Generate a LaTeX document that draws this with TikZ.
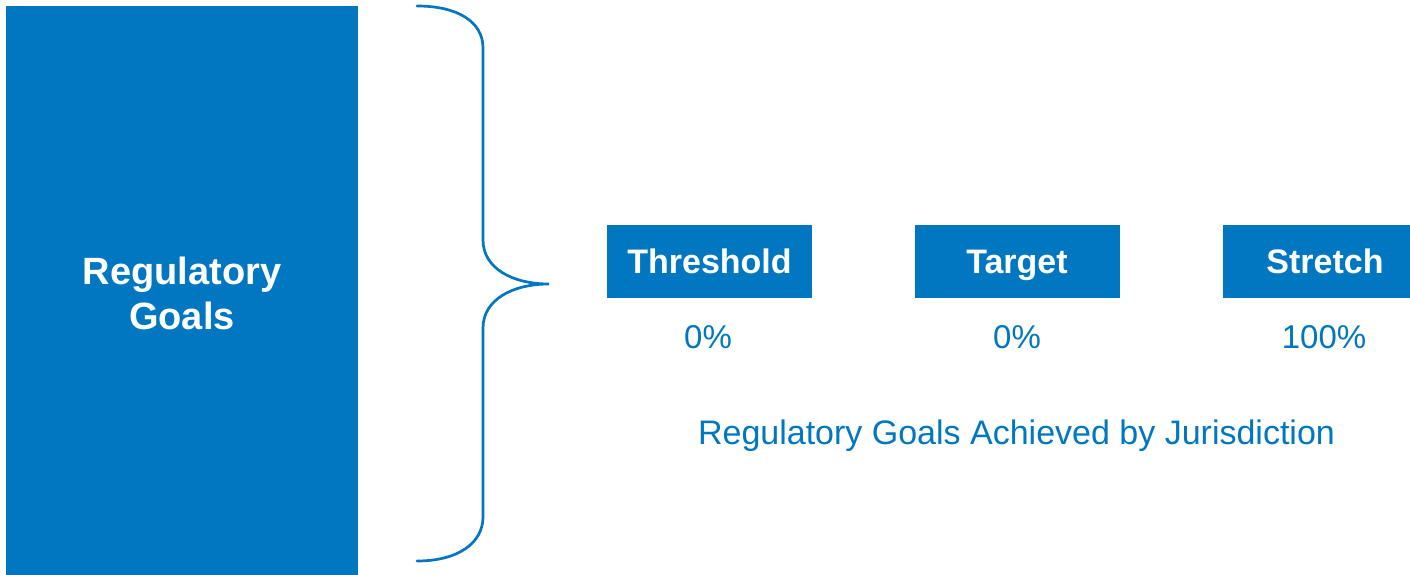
\documentclass[tikz,border=0pt]{standalone}
\usepackage{fontspec}
\setmainfont{Liberation Sans}
\definecolor{corpblue}{RGB}{0,119,192}
\begin{document}
\begin{tikzpicture}[x=1pt,y=-1pt,
  goalbox/.style={fill=corpblue, draw=none, inner sep=0pt, minimum width=205pt, minimum height=73pt,
    text=white, font=\fontsize{34}{40}\selectfont\bfseries, text height=24.3pt, text depth=0pt},
  pct/.style={text=corpblue, font=\fontsize{33}{40}\selectfont, inner sep=0pt,
    text height=23.6pt, text depth=0pt},
  bracepath/.style={draw=corpblue, line width=2.7pt, line cap=round}]
  \useasboundingbox (0,0) rectangle (1410,575);
  \clip (0,0) rectangle (1410,575);

  % left column
  \fill[corpblue] (6,6) rectangle (358,580);
  \node[text=white, font=\fontsize{38}{45}\selectfont\bfseries, align=center, inner sep=0pt]
    (goals) at (182,293) {Regulatory\\Goals};

  % curly brace
  \draw[bracepath] (417,6) .. controls (458,6) and (483,22) .. (483,48)
    -- (483,240) .. controls (483,268) and (512,284) .. (549,284)
    .. controls (512,284) and (483,300) .. (483,328)
    -- (483,517) .. controls (483,543) and (458,561) .. (417,561);

  % levels
  \node[goalbox] (thr) at (709.5,261.5) {Threshold};
  \node[goalbox] (tgt) at (1017,261.5) {Target};
  \node[goalbox] (str) at (1325,261.5) {Stretch};

  \node[pct] (pthr) at (708,337) {0\%};
  \node[pct] (ptgt) at (1017,337) {0\%};
  \node[pct] (pstr) at (1324,337) {100\%};

  \node[pct, font=\fontsize{34}{40}\selectfont, text height=24.3pt]
    (caption) at (1016.5,432) {Regulatory Goals Achieved by Jurisdiction};
\end{tikzpicture}
\end{document}
